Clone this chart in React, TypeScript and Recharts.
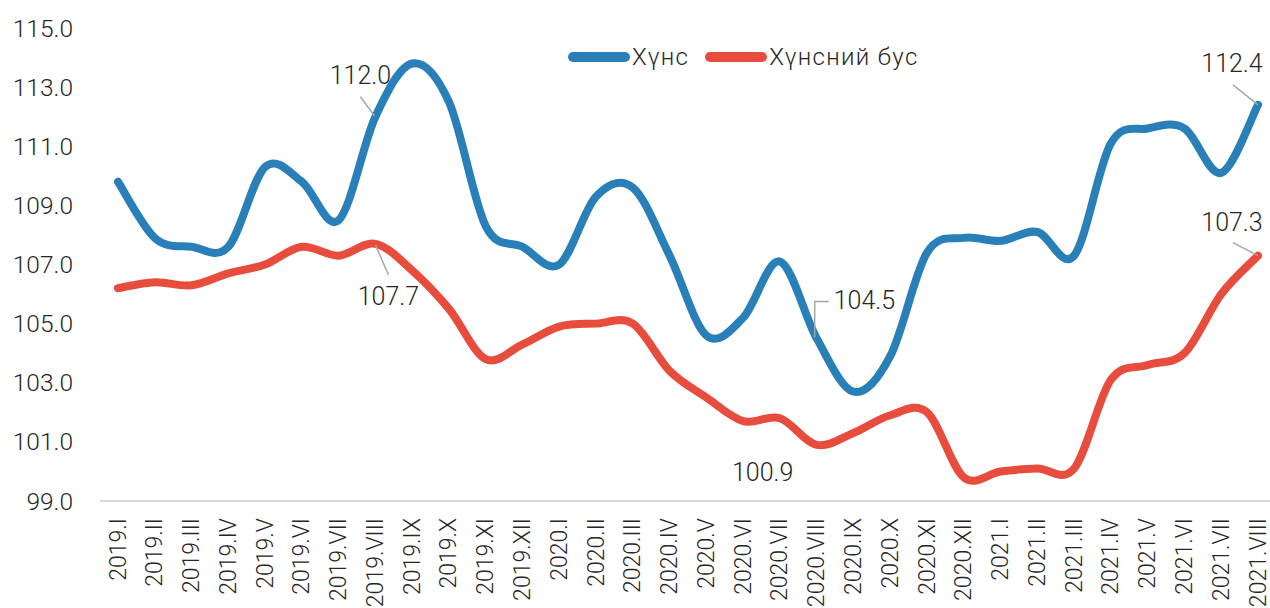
import React from "react";
import { LineChart, Line, XAxis, YAxis } from "recharts";

const categories = [
  "2019.I", "2019.II", "2019.III", "2019.IV", "2019.V", "2019.VI", "2019.VII", "2019.VIII",
  "2019.IX", "2019.X", "2019.XI", "2019.XII",
  "2020.I", "2020.II", "2020.III", "2020.IV", "2020.V", "2020.VI", "2020.VII", "2020.VIII",
  "2020.IX", "2020.X", "2020.XI", "2020.XII",
  "2021.I", "2021.II", "2021.III", "2021.IV", "2021.V", "2021.VI", "2021.VII", "2021.VIII",
];

const foodValues = [
  109.8, 107.9, 107.6, 107.6, 110.3, 109.8, 108.5, 112.0,
  113.8, 112.5, 108.3, 107.6,
  107.0, 109.3, 109.6, 107.3, 104.6, 105.2, 107.1, 104.5,
  102.7, 103.9, 107.4, 107.9,
  107.8, 108.1, 107.3, 111.1, 111.6, 111.6, 110.1, 112.4,
];

const nonFoodValues = [
  106.2, 106.4, 106.3, 106.7, 107.0, 107.6, 107.3, 107.7,
  106.8, 105.5, 103.8, 104.3,
  104.9, 105.0, 105.0, 103.4, 102.5, 101.7, 101.8, 100.9,
  101.3, 101.9, 102.0, 99.8,
  100.0, 100.1, 100.1, 103.1, 103.6, 104.0, 106.0, 107.3,
];

const yTicks = [99, 101, 103, 105, 107, 109, 111, 113, 115];

const seriesNames = { food: "Хүнс", nonFood: "Хүнсний бус" };
const labeledIndices = [7, 19, 31];

const BLUE = "#2980B9";
const RED = "#E74C3C";
const TEXT = "#262626";
const LEADER = "#a6a6a6";
const FONT = "'Roboto Light', Roboto, 'Noto Sans', sans-serif";

const data = categories.map((c, i) => ({
  period: c,
  food: foodValues[i],
  nonFood: nonFoodValues[i],
}));

// Excel-like smoothed line (Catmull-Rom style Bezier)
const excelCurve = (context: any) => {
  let pts: number[][] = [];
  return {
    areaStart() {},
    areaEnd() {},
    lineStart() {
      pts = [];
    },
    lineEnd() {
      const n = pts.length;
      if (n === 0) return;
      context.moveTo(pts[0][0], pts[0][1]);
      if (n === 1) return;
      const t = 1 / 6;
      for (let i = 0; i < n - 1; i++) {
        const p0 = pts[Math.max(i - 1, 0)];
        const p1 = pts[i];
        const p2 = pts[i + 1];
        const p3 = pts[Math.min(i + 2, n - 1)];
        context.bezierCurveTo(
          p1[0] + (p2[0] - p0[0]) * t,
          p1[1] + (p2[1] - p0[1]) * t,
          p2[0] - (p3[0] - p1[0]) * t,
          p2[1] - (p3[1] - p1[1]) * t,
          p2[0],
          p2[1]
        );
      }
    },
    point(x: number, y: number) {
      pts.push([+x, +y]);
    },
  };
};

type Ann = { dx: number; dy: number; anchor: string; leader?: number[][] };

const foodAnn: Record<number, Ann> = {
  7: { dx: -15, dy: -41, anchor: "middle", leader: [[-15, -20], [-1, -1]] },
  19: { dx: 17, dy: -38, anchor: "start", leader: [[-2, -1], [-2, -37], [12, -37]] },
  31: { dx: -26, dy: -41, anchor: "middle", leader: [[-25, -20], [0, 0]] },
};

const nonFoodAnn: Record<number, Ann> = {
  7: { dx: 13, dy: 53, anchor: "middle", leader: [[0, 1], [13, 31]] },
  19: { dx: -54, dy: 28, anchor: "middle" },
  31: { dx: -26, dy: -33, anchor: "middle", leader: [[-25, -13], [0, 0]] },
};

const makeDot = (ann: Record<number, Ann>) => (props: any) => {
  const { cx, cy, index, value } = props;
  const a = ann[index];
  if (!a || !labeledIndices.includes(index) || cx == null || cy == null) {
    return <g key={`d-${index}`} />;
  }
  const v = Array.isArray(value) ? value[1] : value;
  const d = a.leader
    ? a.leader.map((p, i) => `${i === 0 ? "M" : "L"}${cx + p[0]},${cy + p[1]}`).join(" ")
    : null;
  return (
    <g key={`d-${index}`}>
      {d && <path d={d} stroke={LEADER} strokeWidth={1.5} fill="none" />}
      <text
        x={cx + a.dx}
        y={cy + a.dy}
        textAnchor={a.anchor as any}
        dominantBaseline="central"
        fontSize={25}
        fontWeight={300}
        fontFamily={FONT}
        fill={TEXT}
      >
        {Number(v).toFixed(1)}
      </text>
    </g>
  );
};

const XTick = (props: any) => {
  const { x, y, payload } = props;
  return (
    <text
      x={x}
      y={y}
      transform={`rotate(-90 ${x} ${y})`}
      textAnchor="end"
      dominantBaseline="central"
      fontSize={23}
      fontWeight={300}
      fontFamily={FONT}
      fill={TEXT}
    >
      {payload.value}
    </text>
  );
};

const YTick = (props: any) => {
  const { x, y, payload } = props;
  return (
    <text
      x={x}
      y={y}
      textAnchor="end"
      dominantBaseline="central"
      fontSize={24.5}
      fontWeight={300}
      fontFamily={FONT}
      fill={TEXT}
    >
      {Number(payload.value).toFixed(1)}
    </text>
  );
};

const LegendItem = ({ color, label }: { color: string; label: string }) => (
  <div style={{ display: "flex", alignItems: "center", marginRight: 16 }}>
    <svg width={62} height={12} style={{ display: "block" }}>
      <line x1={5} y1={6} x2={57} y2={6} stroke={color} strokeWidth={10} strokeLinecap="round" />
    </svg>
    <span style={{ marginLeft: 2 }}>{label}</span>
  </div>
);

export default function App() {
  return (
    <div
      style={{
        position: "absolute",
        left: 0,
        top: 0,
        width: 1270,
        height: 608,
        overflow: "hidden",
        background: "#fff",
      }}
    >
      <LineChart
        width={1280}
        height={608}
        data={data}
        margin={{ top: 28, right: 3.6, bottom: 0, left: 0 }}
      >
        <XAxis
          dataKey="period"
          interval={0}
          padding={{ left: 18.4, right: 18.4 }}
          height={107}
          tickLine={false}
          tickMargin={11}
          axisLine={{ stroke: "#d9d9d9", strokeWidth: 2 }}
          tick={<XTick />}
        />
        <YAxis
          domain={[99, 115]}
          ticks={yTicks}
          width={99.6}
          axisLine={false}
          tickLine={false}
          tickMargin={20.6}
          tick={<YTick />}
          allowDataOverflow
        />
        <Line
          dataKey="food"
          name={seriesNames.food}
          type={excelCurve as any}
          stroke={BLUE}
          strokeWidth={8}
          strokeLinecap="round"
          strokeLinejoin="round"
          dot={makeDot(foodAnn)}
          activeDot={false}
          isAnimationActive={false}
        />
        <Line
          dataKey="nonFood"
          name={seriesNames.nonFood}
          type={excelCurve as any}
          stroke={RED}
          strokeWidth={8}
          strokeLinecap="round"
          strokeLinejoin="round"
          dot={makeDot(nonFoodAnn)}
          activeDot={false}
          isAnimationActive={false}
        />
      </LineChart>
      <div
        style={{
          position: "absolute",
          left: 568,
          top: 42,
          display: "flex",
          alignItems: "center",
          fontFamily: FONT,
          fontWeight: 300,
          fontSize: 24,
          letterSpacing: 1.3,
          color: TEXT,
          lineHeight: "30px",
        }}
      >
        <LegendItem color={BLUE} label={seriesNames.food} />
        <LegendItem color={RED} label={seriesNames.nonFood} />
      </div>
    </div>
  );
}
